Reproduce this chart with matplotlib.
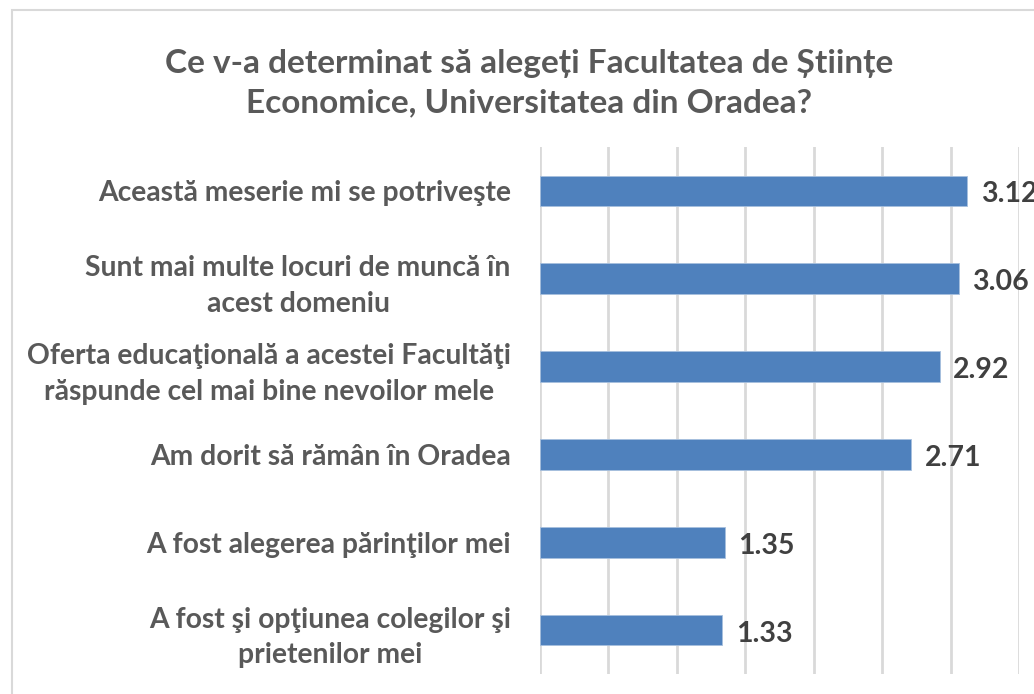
import matplotlib
matplotlib.use('Agg')
import matplotlib.pyplot as plt
from matplotlib.patches import Rectangle

categories = [
    "Această meserie mi se potriveşte",
    "Sunt mai multe locuri de muncă în\nacest domeniu",
    "Oferta educaţională a acestei Facultăţi\nrăspunde cel mai bine nevoilor mele",
    "Am dorit să rămân în Oradea",
    "A fost alegerea părinţilor mei",
    "A fost şi opţiunea colegilor şi\nprietenilor mei",
]
values = [3.12, 3.06, 2.92, 2.71, 1.35, 1.33]
value_labels = ["3.12", "3.06", "2.92", "2.71", "1.35", "1.33"]
title = "Ce v-a determinat să alegeți Facultatea de Științe\nEconomice, Universitatea din Oradea?"

plt.rcParams['font.family'] = ['Lato', 'DejaVu Sans']

fig = plt.figure(figsize=(10.34, 6.94), dpi=100)
# chart frame (cut off at the right and bottom)
fig.patches.append(Rectangle((12 / 1034, -0.1), 1.2, 1 - 10 / 694 + 0.1,
                             transform=fig.transFigure, fill=False,
                             edgecolor='#d9d9d9', linewidth=1.5))

ax = fig.add_axes([540 / 1034, 1 - 674 / 694, (1019 - 540) / 1034, (674 - 147) / 694])
y = list(range(len(categories)))
ax.barh(y, values, height=0.35, color='#4f81bd', edgecolor='#a7c0de', linewidth=0.6, zorder=3)
ax.set_ylim(len(categories) - 0.5, -0.5)
ax.set_xlim(0, 3.5)
ax.set_xticks([0, 0.5, 1, 1.5, 2, 2.5, 3, 3.5])
ax.tick_params(axis='x', length=0, labelbottom=False)
ax.tick_params(axis='y', length=0, pad=21)
ax.set_yticks(y)
ax.set_yticklabels(categories, fontsize=20.3, fontweight='bold', color='#595959',
                   linespacing=1.45)
for t in ax.get_yticklabels():
    t.set_multialignment('center')
ax.grid(axis='x', color='#d9d9d9', linewidth=2, zorder=0)
for s in ax.spines.values():
    s.set_visible(False)

for yi, v, lab in zip(y, values, value_labels):
    ax.text(v + 0.1, yi + 0.04, lab, va='center', ha='left', fontsize=20.5,
            fontweight='bold', color='#404040', clip_on=False)

fig.text(0.512, 1 - 83 / 694, title, ha='center', va='center', fontsize=24,
         fontweight='bold', color='#595959', linespacing=1.42)

fig.savefig('out.png', dpi=100)
